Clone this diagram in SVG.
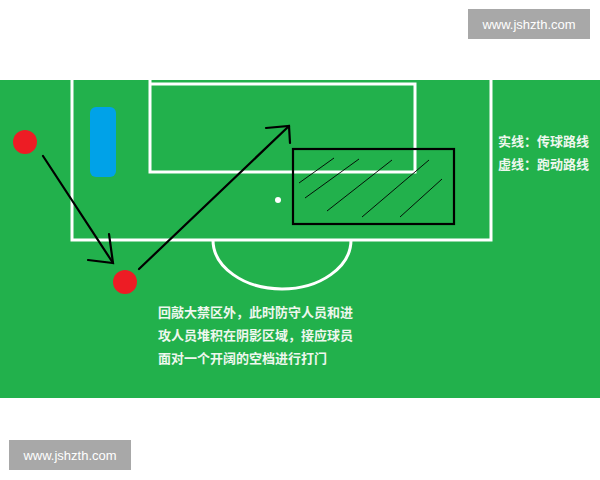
<svg xmlns="http://www.w3.org/2000/svg" width="600" height="480" viewBox="0 0 600 480">
<style>
.line{fill:none;stroke:#ffffff;stroke-width:3}
.arrow{fill:none;stroke:#000000;stroke-width:2.2;stroke-linecap:round}
.hatch{stroke:#000000;stroke-width:0.9}
.txt{font-family:"Noto Sans CJK SC","Noto Sans",sans-serif;font-size:13px;fill:#eef7ee;font-weight:bold}
.wm{font-family:"Liberation Sans",Arial,sans-serif;font-size:13px;fill:#ffffff}
.player{fill:#ed1c24}
</style>
<rect x="0" y="0" width="600" height="480" fill="#ffffff"/>
<g id="watermark-top"><rect x="468" y="9" width="122" height="30" fill="#a8a8a8"/><text class="wm" x="529" y="29" text-anchor="middle">www.jshzth.com</text></g>
<g id="watermark-bottom"><rect x="9" y="440" width="122" height="30" fill="#a8a8a8"/><text class="wm" x="70" y="460" text-anchor="middle">www.jshzth.com</text></g>
<g id="field">
<rect x="0" y="80" width="600" height="318" fill="#22b14c"/>
<polyline class="line" points="72,80 72,240 491,240 491,80"/>
<polyline class="line" points="150,80 150,84 415,84 415,172 150,172 150,84"/>
<path class="line" d="M213,240 A69,49 0 0 0 351,240"/>
<circle cx="278" cy="200" r="3" fill="#ffffff"/>
</g>
<g id="goalkeeper"><rect x="90" y="107" width="26" height="70" rx="6" fill="#00a2e8"/></g>
<g id="player1"><circle class="player" cx="25" cy="142" r="12"/></g>
<g id="player2"><circle class="player" cx="125" cy="282" r="12"/></g>
<g id="shaded-zone">
<rect x="293" y="149" width="161" height="75" fill="none" stroke="#000000" stroke-width="2.2"/>
<line class="hatch" x1="299" y1="183" x2="334" y2="158"/>
<line class="hatch" x1="305" y1="198" x2="359" y2="159"/>
<line class="hatch" x1="327" y1="211" x2="392" y2="160"/>
<line class="hatch" x1="362" y1="217" x2="429" y2="160"/>
<line class="hatch" x1="400" y1="217" x2="442" y2="179"/>
</g>
<g id="connectors">
<line class="arrow" x1="43" y1="156" x2="113" y2="263"/>
<polyline class="arrow" points="109,234 113,263 88,260"/>
<line class="arrow" x1="139" y1="269" x2="289" y2="126"/>
<polyline class="arrow" points="266,128 289,126 290,143"/>
</g>
<g id="legend">
<text class="txt" x="498" y="146">实线：传球路线</text>
<text class="txt" x="498" y="169">虚线：跑动路线</text>
</g>
<g id="caption">
<text class="txt" x="158" y="317">回敲大禁区外，此时防守人员和进</text>
<text class="txt" x="158" y="340">攻人员堆积在阴影区域，接应球员</text>
<text class="txt" x="158" y="363">面对一个开阔的空档进行打门</text>
</g>
</svg>
